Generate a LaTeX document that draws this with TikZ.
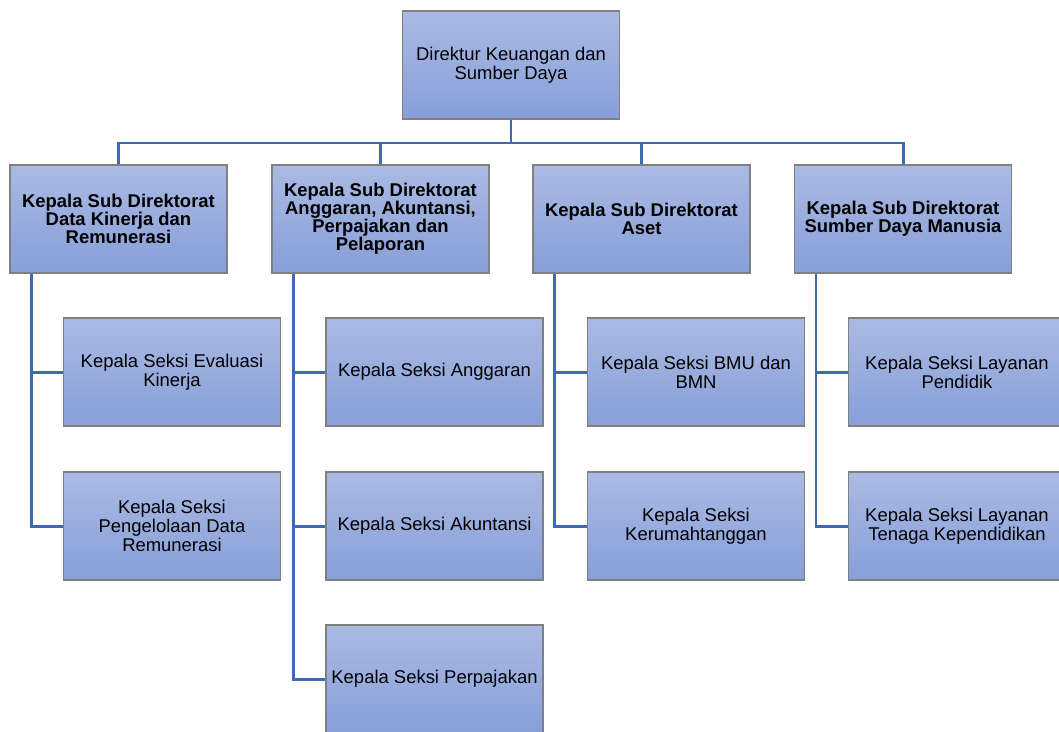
\documentclass[tikz,border=0pt]{standalone}
\usepackage{fontspec}
\setmainfont{Liberation Sans}
\usepackage{tikz}

\definecolor{boxtop}{HTML}{AABAE3}
\definecolor{boxbot}{HTML}{879ED8}
\definecolor{linkblue}{HTML}{3F6AB3}

\tikzset{
  orgbox/.style={draw=gray, line width=0.6pt, top color=boxtop, bottom color=boxbot,
    minimum width=4.34cm, minimum height=2.16cm, inner sep=1pt, align=center,
    font=\fontsize{10.5}{10.9}\selectfont},
  subbox/.style={orgbox, font=\fontsize{10.5}{10.3}\selectfont\bfseries},
  link/.style={draw=linkblue, line width=1.7pt}
}

\begin{document}
\begin{tikzpicture}[x=0.02cm, y=-0.02cm]
  \useasboundingbox (0,0) rectangle (1059,731);
  \clip (0,0) rectangle (1059,731);

  % Direktur
  \node[orgbox] (dir) at (511,65) {Direktur Keuangan dan\\Sumber Daya};

  % Kepala Sub Direktorat
  \node[subbox] (sub1) at (118.5,219) {Kepala Sub Direktorat\\Data Kinerja dan\\Remunerasi};
  \node[subbox] (sub2) at (380.5,219) {Kepala Sub Direktorat\\Anggaran, Akuntansi,\\Perpajakan dan\\Pelaporan};
  \node[subbox] (sub3) at (641.5,219) {Kepala Sub Direktorat\\Aset};
  \node[subbox] (sub4) at (903,219) {Kepala Sub Direktorat\\Sumber Daya Manusia};

  % Kepala Seksi
  \node[orgbox] (kasi11) at (172,372) {Kepala Seksi Evaluasi\\Kinerja};
  \node[orgbox] (kasi12) at (172,526) {Kepala Seksi\\Pengelolaan Data\\Remunerasi};
  \node[orgbox] (kasi21) at (434.5,372) {Kepala Seksi Anggaran};
  \node[orgbox] (kasi22) at (434.5,526) {Kepala Seksi Akuntansi};
  \node[orgbox] (kasi23) at (434.5,679) {Kepala Seksi Perpajakan};
  \node[orgbox] (kasi31) at (696,372) {Kepala Seksi BMU dan\\BMN};
  \node[orgbox] (kasi32) at (696,526) {Kepala Seksi\\Kerumahtanggan};
  \node[orgbox] (kasi41) at (957,372) {Kepala Seksi Layanan\\Pendidik};
  \node[orgbox] (kasi42) at (957,526) {Kepala Seksi Layanan\\Tenaga Kependidikan};

  % Garis ke sub direktorat
  \coordinate (bus) at (511,143);
  \draw[link] (dir.south) -- (bus);
  \foreach \s in {sub1,sub2,sub3,sub4}
    \draw[link] (bus) -| (\s.north);

  % Garis ke seksi
  \draw[link] ([xshift=0.44cm]sub1.south west) |- (kasi11.west);
  \draw[link] ([xshift=0.44cm]sub1.south west) |- (kasi12.west);
  \draw[link] ([xshift=0.44cm]sub2.south west) |- (kasi21.west);
  \draw[link] ([xshift=0.44cm]sub2.south west) |- (kasi22.west);
  \draw[link] ([xshift=0.44cm]sub2.south west) |- (kasi23.west);
  \draw[link] ([xshift=0.44cm]sub3.south west) |- (kasi31.west);
  \draw[link] ([xshift=0.44cm]sub3.south west) |- (kasi32.west);
  \draw[link] ([xshift=0.44cm]sub4.south west) |- (kasi41.west);
  \draw[link] ([xshift=0.44cm]sub4.south west) |- (kasi42.west);
\end{tikzpicture}
\end{document}
